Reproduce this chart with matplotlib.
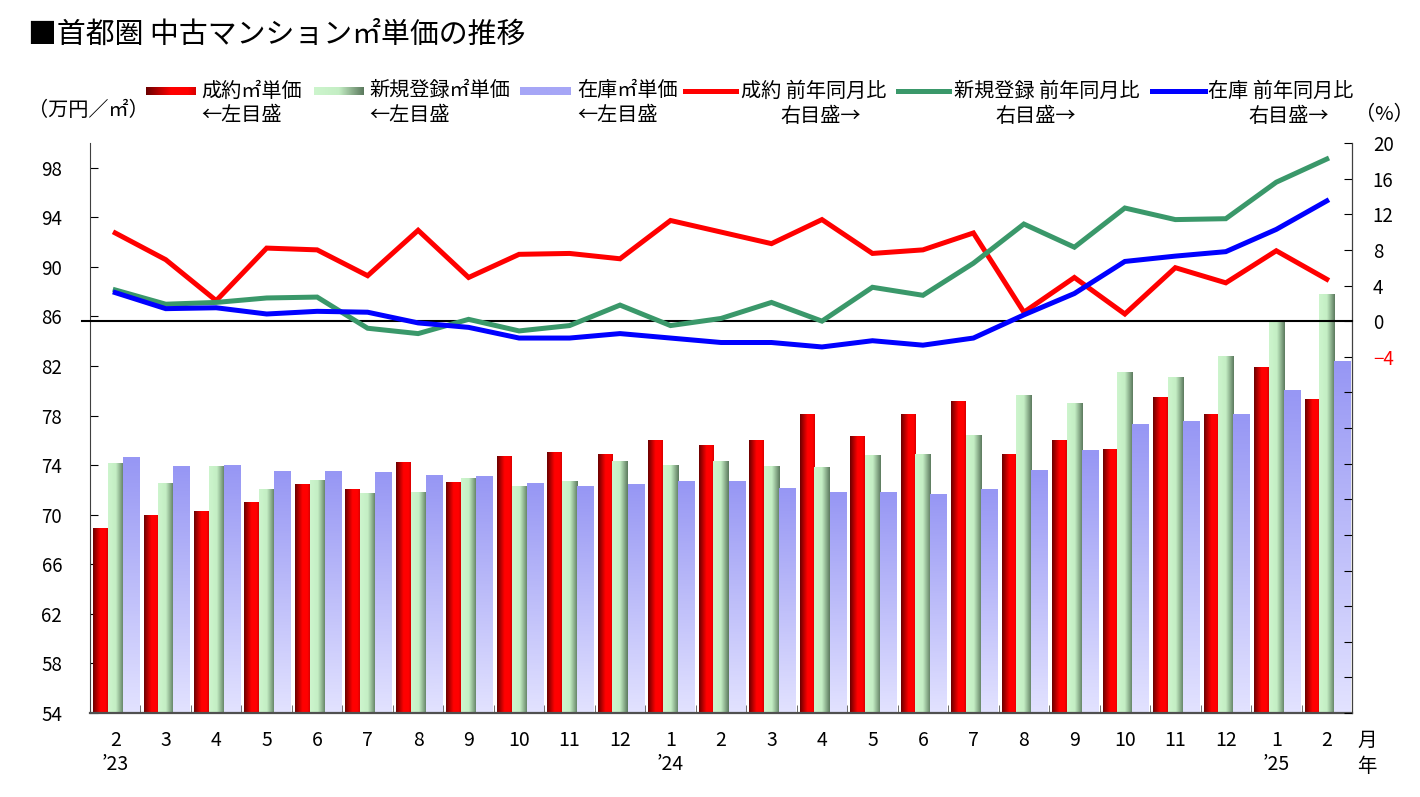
import numpy as np
import matplotlib
matplotlib.use("Agg")
import matplotlib.pyplot as plt
from matplotlib.colors import LinearSegmentedColormap
from matplotlib.lines import Line2D

plt.rcParams['font.family'] = ['Noto Sans CJK JP', 'DejaVu Sans']

months = ["2\n’23", "3", "4", "5", "6", "7", "8", "9", "10", "11", "12",
          "1\n’24", "2", "3", "4", "5", "6", "7", "8", "9", "10", "11", "12",
          "1\n’25", "2"]

# 万円/㎡ (left axis)
contract_price = [68.9, 69.9, 70.3, 71.0, 72.4, 72.0, 74.2, 72.6, 74.7, 75.0, 74.9, 76.0, 75.6,
                  76.0, 78.1, 76.3, 78.1, 79.1, 74.9, 76.0, 75.3, 79.5, 78.1, 81.9, 79.3]
new_price = [74.1, 72.5, 73.9, 72.0, 72.8, 71.7, 71.8, 72.9, 72.3, 72.7, 74.3, 74.0, 74.3,
             73.9, 73.8, 74.8, 74.9, 76.4, 79.6, 79.0, 81.5, 81.1, 82.8, 85.5, 87.8]
stock_price = [74.6, 73.9, 74.0, 73.5, 73.5, 73.4, 73.2, 73.1, 72.5, 72.3, 72.4, 72.7, 72.7,
               72.1, 71.8, 71.8, 71.6, 72.0, 73.6, 75.2, 77.3, 77.5, 78.1, 80.0, 82.4]

# 前年同月比 % (right axis)
contract_yoy = [9.9, 6.9, 2.3, 8.2, 8.0, 5.1, 10.2, 4.9, 7.5, 7.6, 7.0, 11.3, 10.0,
                8.7, 11.4, 7.6, 8.0, 9.9, 1.0, 4.9, 0.8, 6.0, 4.3, 7.9, 4.7]
new_yoy = [3.5, 1.9, 2.1, 2.6, 2.7, -0.8, -1.4, 0.2, -1.1, -0.5, 1.8, -0.5, 0.3,
           2.1, 0.0, 3.8, 2.9, 6.5, 10.9, 8.3, 12.7, 11.4, 11.5, 15.6, 18.2]
stock_yoy = [3.2, 1.4, 1.5, 0.8, 1.1, 1.0, -0.2, -0.7, -1.9, -1.9, -1.4, -1.9, -2.4,
             -2.4, -2.9, -2.2, -2.7, -1.9, 0.7, 3.1, 6.7, 7.3, 7.8, 10.3, 13.5]

W, H = 1420, 797
fig = plt.figure(figsize=(W / 100, H / 100), dpi=100)
ax = fig.add_axes([90 / W, 1 - 713 / H, (1352 - 90) / W, (713 - 143) / H])

red_cmap = LinearSegmentedColormap.from_list(
    "r", [(0, "#6a0000"), (0.5, "#ff0000"), (0.85, "#ff0000"), (1, "#d80000")])
green_cmap = LinearSegmentedColormap.from_list(
    "g", [(0, "#cdf5cd"), (0.5, "#c4eec4"), (1, "#5c7a5e")])
blue_cmap = LinearSegmentedColormap.from_list("b", ["#9797f4", "#e2e2ff"])

x = np.arange(len(months))


def paint(bars, cmap, vertical=False):
    for r in bars:
        x0, y0 = r.get_x(), r.get_y()
        x1, y1 = x0 + r.get_width(), y0 + r.get_height()
        if vertical:
            grad = np.linspace(0, 1, 64).reshape(-1, 1)
        else:
            grad = np.linspace(0, 1, 64).reshape(1, -1)
        ax.imshow(grad, cmap=cmap, extent=(x0, x1, y0, y1), aspect='auto',
                  interpolation='bilinear', zorder=2)


b1 = ax.bar(x - 0.295, np.array(contract_price) - 54, 0.29, bottom=54, color='none')
b2 = ax.bar(x + 0.0, np.array(new_price) - 54, 0.30, bottom=54, color='none')
b3 = ax.bar(x + 0.31, np.array(stock_price) - 54, 0.32, bottom=54, color='none')
paint(b1, red_cmap)
paint(b2, green_cmap)
paint(b3, blue_cmap, vertical=True)

ax.set_xlim(-0.5, len(months) - 0.5)
ax.set_ylim(54, 100)
ax.set_yticks(np.arange(54, 99, 4))
ax.tick_params(axis='y', direction='in', length=6, pad=20, labelsize=13.5)
ax.set_xticks(x, months)
ax.set_xticks(np.arange(0.5, len(months) - 1, 1), minor=True)
ax.tick_params(axis='x', which='major', length=0, pad=12, labelsize=14)
ax.tick_params(axis='x', which='minor', direction='in', length=6, color='#555555')
ax.spines['top'].set_visible(False)
ax.spines['left'].set_color('#404040')
ax.spines['bottom'].set_color('#505050')
ax.spines['bottom'].set_linewidth(1.6)

ax2 = ax.twinx()
ax2.set_ylim(-44, 20)
rticks = np.arange(-44, 21, 4)
rlabels = [str(v) if v >= 0 else ('−4' if v == -4 else '') for v in rticks]
ax2.set_yticks(rticks, rlabels)
ax2.tick_params(axis='y', direction='in', length=6, pad=15, labelsize=13.5)
for t in ax2.get_yticklabels():
    if t.get_text() == '−4':
        t.set_color('red')
ax2.spines['top'].set_visible(False)
ax2.spines['left'].set_visible(False)
ax2.spines['right'].set_color('#404040')
ax2.spines['bottom'].set_visible(False)

zl = ax2.axhline(0, xmin=-0.006, xmax=1, color='black', lw=1.5, zorder=3)
zl.set_clip_on(False)
ax2.plot(x, contract_yoy, color='#ff0000', lw=3.6, zorder=4, solid_joinstyle='miter')
ax2.plot(x, new_yoy, color='#3a986a', lw=3.6, zorder=4, solid_joinstyle='miter')
ax2.plot(x, stock_yoy, color='#0000ff', lw=3.6, zorder=5, solid_joinstyle='miter')

# title and axis units
fig.text(28 / W, 1 - 35 / H, "■首都圏 中古マンション㎡単価の推移", fontsize=20.8,
         va='center', ha='left')
fig.text(28 / W, 1 - 110 / H, "（万円／㎡）", fontsize=14.5, va='center', ha='left')
fig.text(1414 / W, 1 - 115 / H, "（%）", fontsize=14.5, va='center', ha='right')
fig.text(1357 / W, 1 - 740 / H, "月", fontsize=14, va='center', ha='left')
fig.text(1357 / W, 1 - 766 / H, "年", fontsize=14, va='center', ha='left')

# legend
fs = 14.5
swatches = [(146, 195, red_cmap, False), (314, 364, green_cmap, False), (520, 571, blue_cmap, True)]
for x0, x1, cm, flat in swatches:
    sax = fig.add_axes([x0 / W, 1 - 95 / H, (x1 - x0) / W, 8 / H])
    g = np.full((1, 64), 0.2) if flat else np.linspace(0, 1, 64).reshape(1, -1)
    sax.imshow(g, cmap=cm, aspect='auto', vmin=0, vmax=1, interpolation='bilinear')
    sax.axis('off')

bar_names = [(201, "成約㎡単価"), (369, "新規登録㎡単価"), (577, "在庫㎡単価")]
for tx, name in bar_names:
    fig.text(tx / W, 1 - 91 / H, name, fontsize=fs, va='center', ha='left')
    fig.text(tx / W, 1 - 116 / H, "←左目盛", fontsize=fs, va='center', ha='left')

line_items = [(685, 736, '#ff0000', 741, "成約 前年同月比", 821),
              (898, 949, '#3a986a', 954, "新規登録 前年同月比", 1036),
              (1152, 1205, '#0000ff', 1208, "在庫 前年同月比", 1289)]
for l0, l1, c, tx, name, cx in line_items:
    fig.add_artist(Line2D([l0 / W, l1 / W], [1 - 91 / H, 1 - 91 / H], color=c, lw=3.6,
                          transform=fig.transFigure))
    fig.text(tx / W, 1 - 91 / H, name, fontsize=fs, va='center', ha='left')
    fig.text(cx / W, 1 - 116 / H, "右目盛→", fontsize=fs, va='center', ha='center')

fig.savefig("out.png", dpi=100)
